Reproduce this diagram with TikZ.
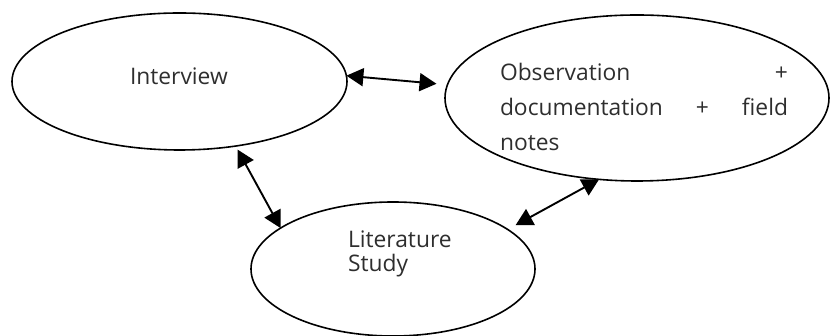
\documentclass[tikz,border=0pt]{standalone}
\usepackage{fontspec}
\setmainfont{Open Sans}
\usetikzlibrary{arrows.meta,shapes.geometric}
\begin{document}
\begin{tikzpicture}[x=1pt,y=1pt,
  oval/.style={draw=black,line width=1.6pt,ellipse,inner sep=0pt,outer sep=0pt},
  lbl/.style={inner sep=0pt,outer sep=0pt,text=black!82,font=\fontsize{22.8}{24}\selectfont},
  link/.style={line width=1.9pt,{Triangle[length=17pt,width=18pt]}-{Triangle[length=17pt,width=18pt]}}]
\useasboundingbox (0,0) rectangle (832,336);
\node[oval,minimum width=335pt,minimum height=137pt] (int) at (179.5,254.5) {};
\node[oval,minimum width=384pt,minimum height=166pt] (obs) at (637,238) {};
\node[oval,minimum width=284pt,minimum height=134pt] (lit) at (393,67) {};
\node[lbl,anchor=base west] (tint) at (130,251) {Interview};
\node[lbl,anchor=base west,text width=288pt,align=left,font=\fontsize{22.8}{35}\selectfont] (tobs) at (500,255)
  {Observation\hfill+\\documentation\hfill+\hfill field\\notes};
\node[lbl,anchor=base west,align=left] (tlit) at (348,64) {Literature\\Study};
\draw[link] (int.2) -- (obs.176) [shorten >=11pt];
\draw[link,shorten <=4pt] (int.-49) -- (lit.160);
\draw[link,shorten <=9pt] (lit.19) -- (obs.-115);
\end{tikzpicture}
\end{document}
